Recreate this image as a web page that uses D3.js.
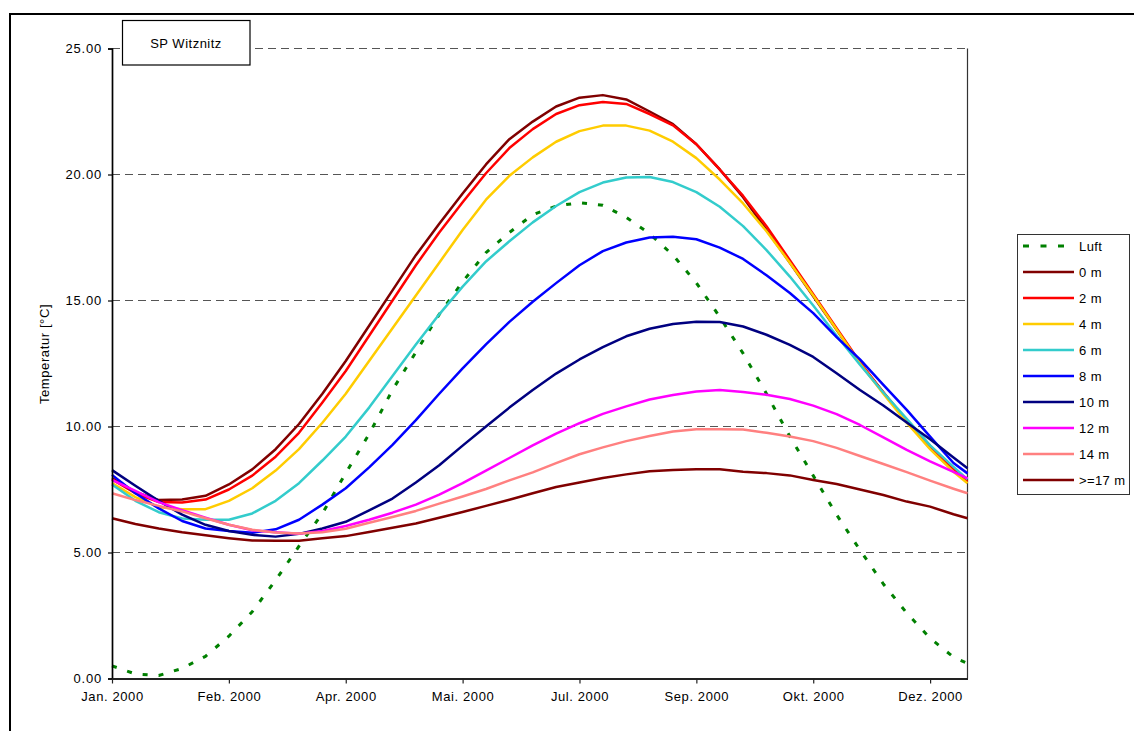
<!DOCTYPE html>
<html>
<head>
<meta charset="utf-8">
<script src="https://cdn.jsdelivr.net/npm/d3@7"></script>
<style>
  html, body { margin: 0; padding: 0; background: #fff; }
  svg { display: block; font-family: "Liberation Sans", Arial, sans-serif; }
</style>
</head>
<body>
<svg id="chart" width="1134" height="731"></svg>
<script>
// ---- data (day offsets from 1 Jan 2000) ----
const days = [0,10,20,30,40,50,60,70,80,90,100,110,120,130,140,150,160,170,180,190,200,210,220,230,240,250,260,270,280,290,300,310,320,330,340,350,360,366];

const luft = [0.5,0.18,0.12,0.4,0.88,1.68,2.65,3.9,5.25,6.55,8.15,9.7,11.45,12.95,14.45,15.74,16.9,17.7,18.4,18.75,18.88,18.78,18.3,17.65,16.8,15.7,14.35,12.9,11.3,9.6,8.05,6.5,5.1,3.75,2.6,1.6,0.85,0.6];
const m0 = [7.95,7.4,7.08,7.1,7.25,7.7,8.3,9.1,10.1,11.3,12.6,14.0,15.4,16.8,18.05,19.25,20.4,21.4,22.1,22.7,23.05,23.15,22.98,22.5,22.0,21.2,20.2,19.1,17.8,16.5,15.17,13.84,12.5,11.36,10.23,9.23,8.35,7.88];
const m2 = [7.9,7.35,7.0,6.98,7.1,7.5,8.05,8.8,9.75,10.95,12.2,13.6,15.0,16.4,17.7,18.9,20.05,21.05,21.8,22.4,22.75,22.88,22.8,22.4,21.95,21.2,20.2,19.15,17.95,16.6,15.25,13.9,12.55,11.35,10.2,9.15,8.3,7.8];
const m4 = [7.75,7.2,6.8,6.72,6.72,7.05,7.55,8.25,9.1,10.15,11.3,12.6,13.9,15.2,16.5,17.8,19.0,19.95,20.68,21.3,21.72,21.94,21.94,21.74,21.3,20.65,19.8,18.85,17.75,16.5,15.2,13.85,12.5,11.3,10.15,9.1,8.2,7.75];
const m6 = [7.7,7.05,6.6,6.35,6.3,6.3,6.55,7.05,7.75,8.65,9.6,10.75,12.0,13.25,14.45,15.55,16.55,17.35,18.1,18.75,19.3,19.68,19.88,19.9,19.7,19.3,18.72,17.95,17.0,15.95,14.8,13.6,12.45,11.35,10.3,9.25,8.4,7.9];
const m8 = [8.08,7.35,6.75,6.25,5.95,5.85,5.78,5.92,6.3,6.9,7.55,8.38,9.27,10.25,11.3,12.31,13.26,14.15,14.95,15.69,16.4,16.96,17.3,17.5,17.53,17.43,17.1,16.65,16.0,15.3,14.5,13.55,12.66,11.65,10.66,9.6,8.55,8.14];
const m10 = [8.27,7.65,7.05,6.5,6.1,5.85,5.7,5.63,5.74,5.95,6.22,6.67,7.14,7.78,8.46,9.24,10.0,10.75,11.45,12.1,12.66,13.15,13.58,13.88,14.07,14.16,14.15,13.97,13.64,13.24,12.76,12.11,11.45,10.83,10.16,9.49,8.77,8.34];
const m12 = [7.88,7.45,7.0,6.68,6.38,6.1,5.88,5.8,5.74,5.85,6.05,6.3,6.58,6.9,7.3,7.75,8.25,8.75,9.25,9.72,10.13,10.5,10.8,11.07,11.25,11.39,11.45,11.37,11.26,11.09,10.83,10.49,10.06,9.57,9.07,8.62,8.2,7.94];
const m14 = [7.35,7.08,6.85,6.63,6.36,6.1,5.9,5.79,5.75,5.8,5.94,6.18,6.41,6.65,6.94,7.22,7.52,7.86,8.18,8.55,8.9,9.17,9.42,9.62,9.8,9.89,9.89,9.88,9.75,9.6,9.42,9.15,8.83,8.51,8.19,7.85,7.53,7.35];
const m17 = [6.36,6.13,5.95,5.8,5.68,5.57,5.48,5.47,5.47,5.57,5.65,5.81,5.98,6.15,6.38,6.61,6.85,7.09,7.35,7.6,7.78,7.96,8.1,8.22,8.27,8.3,8.3,8.2,8.15,8.06,7.88,7.72,7.5,7.28,7.02,6.82,6.52,6.36];

const seriesNames = ["Luft","0 m","2 m","4 m","6 m","8 m","10 m","12 m","14 m",">=17 m"];
const seriesColors = ["#008000","#800000","#FF0000","#FFCC00","#33CCCC","#0000FF","#000080","#FF00FF","#FF8080","#800000"];
const seriesValues = [luft,m0,m2,m4,m6,m8,m10,m12,m14,m17];

const tickDays = [0,50,100,150,200,250,300,350];
const tickLabels = ["Jan. 2000","Feb. 2000","Apr. 2000","Mai. 2000","Jul. 2000","Sep. 2000","Okt. 2000","Dez. 2000"];
const yTicks = [0,5,10,15,20,25];
const chartTitle = "SP Witznitz";
const yTitle = "Temperatur [°C]";

// ---- layout ----
const svg = d3.select("#chart");
const pLeft = 112, pRight = 967.5, pTop = 48.5, pBottom = 678.5;
const start = Date.UTC(2000,0,1);
const toDate = d => new Date(start + d*86400000);

const x = d3.scaleUtc().domain([toDate(0), toDate(366)]).range([pLeft, pRight]);
const y = d3.scaleLinear().domain([0,25]).range([pBottom, pTop]);

// outer frame
svg.append("rect").attr("x",10).attr("y",14).attr("width",1200).attr("height",800)
  .attr("fill","#fff").attr("stroke","#000").attr("stroke-width",2);

// gridlines
svg.append("g").selectAll("line").data(yTicks.filter(v => v > 0)).join("line")
  .attr("x1", pLeft).attr("x2", pRight)
  .attr("y1", d => y(d)).attr("y2", d => y(d))
  .attr("stroke","#555").attr("stroke-width",1).attr("stroke-dasharray","8,5");

// right border
svg.append("line").attr("x1",pRight).attr("x2",pRight).attr("y1",pTop).attr("y2",pBottom)
  .attr("stroke","#333").attr("stroke-width",1.2);

// series
const line = d3.line().x((d,i) => x(toDate(days[i]))).y(d => y(d)).curve(d3.curveLinear);
const gSeries = svg.append("g");
seriesValues.forEach((vals, si) => {
  const p = gSeries.append("path").datum(vals)
    .attr("d", line).attr("fill","none")
    .attr("stroke", seriesColors[si])
    .attr("stroke-linejoin","round");
  if (si === 0) {
    p.attr("stroke-width",3).attr("stroke-dasharray","5,11");
  } else {
    p.attr("stroke-width",2.5);
  }
});

// y axis
const yAxis = d3.axisLeft(y).tickValues(yTicks).tickFormat(d3.format(".2f")).tickSize(4).tickPadding(6);
const gy = svg.append("g").attr("transform",`translate(${pLeft},0)`).call(yAxis);
gy.select(".domain").attr("stroke","#000").attr("stroke-width",1.7);
gy.selectAll(".tick line").attr("stroke","#000").attr("stroke-width",1.2);
gy.selectAll("text").attr("font-size",13).attr("fill","#000")
  .style("letter-spacing","0.8px")
  .attr("font-family","'Liberation Sans', Arial, sans-serif");

// x axis
const xAxis = d3.axisBottom(x).tickValues(tickDays.map(toDate))
  .tickFormat((d,i) => tickLabels[i]).tickSize(5).tickSizeOuter(0).tickPadding(8);
const gx = svg.append("g").attr("transform",`translate(0,${pBottom})`).call(xAxis);
gx.select(".domain").attr("stroke","#222").attr("stroke-width",2);
gx.selectAll(".tick line").attr("stroke","#222").attr("stroke-width",1.2);
gx.selectAll("text").attr("font-size",13).attr("fill","#000")
  .style("letter-spacing","0.6px")
  .attr("font-family","'Liberation Sans', Arial, sans-serif");

// y title
svg.append("text").attr("transform","translate(49,354) rotate(-90)")
  .attr("text-anchor","middle").attr("font-size",13).style("letter-spacing","0.6px")
  .text(yTitle);

// title box
svg.append("rect").attr("x",122.5).attr("y",20.5).attr("width",127.5).attr("height",44.5)
  .attr("fill","#fff").attr("stroke","#000").attr("stroke-width",1.2);
svg.append("text").attr("x",186).attr("y",47.5).attr("text-anchor","middle")
  .attr("font-size",13).style("letter-spacing","0.5px").text(chartTitle);

// legend
const lg = svg.append("g");
lg.append("rect").attr("x",1017.5).attr("y",234.5).attr("width",112).attr("height",260)
  .attr("fill","#fff").attr("stroke","#333").attr("stroke-width",1);
seriesNames.forEach((name, i) => {
  const yy = 246 + i*26;
  const l = lg.append("line").attr("x1",1023).attr("x2",1074).attr("y1",yy).attr("y2",yy)
    .attr("stroke",seriesColors[i]);
  if (i === 0) l.attr("stroke-width",3).attr("stroke-dasharray","6,11.5");
  else l.attr("stroke-width",2.5);
  lg.append("text").attr("x",1079).attr("y",yy+4.5).attr("font-size",13)
    .style("letter-spacing","0.4px").text(name);
});
</script>
</body>
</html>
